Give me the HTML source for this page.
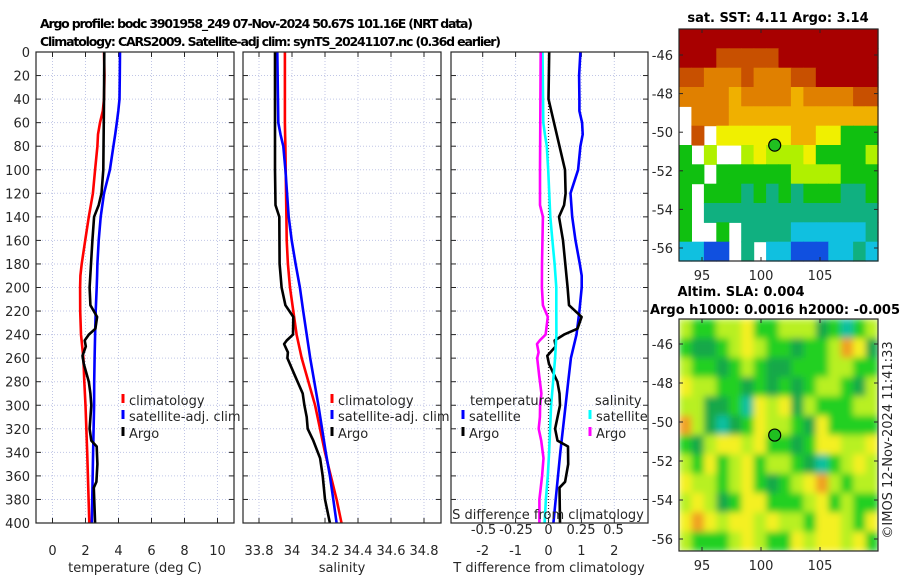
<!DOCTYPE html>
<html><head><meta charset="utf-8"><style>
html,body{margin:0;padding:0;background:#fff;}
svg{display:block;font-family:"DejaVu Sans","Liberation Sans",sans-serif;}
</style></head><body>
<svg id="fig" width="900" height="580" viewBox="0 0 900 580" xmlns="http://www.w3.org/2000/svg">
<defs><filter id="blur" x="0" y="0" width="1" height="1"><feGaussianBlur stdDeviation="3.5"/></filter>
<clipPath id="clipSla"><rect x="679" y="319" width="199" height="232"/></clipPath></defs>
<text x="40" y="28" font-size="12.5" font-weight="bold" textLength="433" lengthAdjust="spacing">Argo profile: bodc 3901958_249 07-Nov-2024 50.67S 101.16E (NRT data)</text>
<text x="40" y="46" font-size="12.5" font-weight="bold" textLength="461" lengthAdjust="spacing">Climatology: CARS2009. Satellite-adj clim: synTS_20241107.nc (0.36d earlier)</text>
<g id="root"></g>
</svg>
<script>
// ---- data ----
const depthT = [0,20,40,50,60,70,80,100,120,140,160,180,190,200,220,240,260,280,300,340,400];
const tempClim = [3.12,3.15,3.12,3.05,2.88,2.76,2.72,2.58,2.45,2.2,1.98,1.77,1.69,1.67,1.68,1.73,1.87,1.93,2.0,2.1,2.23];
const tempSat  = [4.09,4.08,4.06,3.99,3.9,3.8,3.69,3.48,3.12,2.92,2.8,2.72,2.7,2.68,2.62,2.58,2.55,2.53,2.52,2.46,2.38];
const depthArgoT = [0,40,100,120,130,140,160,200,215,225,235,240,245,250,258,265,280,290,300,320,330,335,350,365,370,400];
const tempArgo = [3.14,3.12,3.08,2.97,2.8,2.52,2.42,2.25,2.3,2.7,2.6,2.2,1.95,2.02,1.82,1.9,2.2,2.3,2.35,2.25,2.35,2.68,2.72,2.66,2.5,2.58];
const depthS = [0,60,70,80,100,140,160,180,200,220,240,260,300,340,360,380,400];
const salClim = [33.957,33.957,33.958,33.96,33.962,33.966,33.968,33.975,33.988,34.008,34.028,34.059,34.14,34.2,34.235,34.27,34.3];
const salSat  = [33.911,33.917,33.93,33.947,33.96,33.98,33.998,34.022,34.048,34.068,34.089,34.11,34.16,34.205,34.23,34.25,34.27];
const depthArgoS = [0,100,130,140,180,200,215,225,240,245,248,255,260,275,290,300,310,320,330,345,360,380,400];
const salArgo = [33.897,33.897,33.9,33.923,33.925,33.937,33.96,34.008,34.006,33.968,33.952,33.975,33.972,34.018,34.065,34.075,34.089,34.095,34.129,34.17,34.186,34.2,34.23];
const tempTicks = [0,2,4,6,8,10];
const salTicks = [33.8,34,34.2,34.4,34.6,34.8];
const salTickLabels = ["33.8","34","34.2","34.4","34.6","34.8"];
const dTTicks = [-2,-1,0,1,2];
const dSTicks = [-0.5,-0.25,0,0.25,0.5];
const depthTicks = [0,20,40,60,80,100,120,140,160,180,200,220,240,260,280,300,320,340,360,380,400];
// SST grid (rows north->south), 0=blue..9=dark red, '.'=missing
const sstRows = [
"9999999999999999","9998888899999999","8877787778899999","7777677776777788",
".777666666666666",".8.5555556655333","3.4..45444533334","33.3333334444333",
"3.33323232333223","3.22222222222222","3..3.22221111112","1100.2.110001121"];
// SLA grid 0=teal..5=orange
const slaRows = [
"3223342233312023","2112343221223541","3221232112223322","4332212121233213",
"3311204341322233","5310124332142222","2134434221244334","3242342332102343",
"4332342123453233","3431244222342322","4543443433244324","3222343224344342"];
const argoLon = 101.16, argoLat = -50.67;

// ---- helpers ----
const NS="http://www.w3.org/2000/svg";
const root=document.getElementById('root');
function mk(tag,attrs,parent){const e=document.createElementNS(NS,tag);for(const k in attrs)e.setAttribute(k,attrs[k]);(parent||root).appendChild(e);return e;}
function txt(x,y,s,attrs,parent){const e=mk('text',Object.assign({x:x,y:y,'font-size':13,fill:'#262626'},attrs||{}),parent);e.textContent=s;return e;}
const yTop=52,yBot=523;
const yD=d=>yTop+(yBot-yTop)*d/400;
function interp(ds,vs,d){for(let i=0;i<ds.length-1;i++){if(d>=ds[i]&&d<=ds[i+1]){const f=(d-ds[i])/(ds[i+1]-ds[i]);return vs[i]+f*(vs[i+1]-vs[i]);}}return vs[vs.length-1];}

function panel(name){
  const g=mk('g',{});
  
  
  return g;
}
function grid(g,x0,x1,xs){
  xs.forEach(x=>{const l=mk('line',{x1:x,x2:x,y1:yTop,y2:yBot,stroke:'#c0c6e6','stroke-width':1,'stroke-dasharray':'1,2'},g);
    
    mk('line',{x1:x,x2:x,y1:yBot,y2:yBot-5,stroke:'#262626'},g);mk('line',{x1:x,x2:x,y1:yTop,y2:yTop+5,stroke:'#262626'},g);});
  depthTicks.forEach(d=>{const y=yD(d);const l=mk('line',{x1:x0,x2:x1,y1:y,y2:y,stroke:'#c0c6e6','stroke-width':1,'stroke-dasharray':'1,2'},g);
    
    mk('line',{x1:x0,x2:x0+5,y1:y,y2:y,stroke:'#262626'},g);mk('line',{x1:x1-5,x2:x1,y1:y,y2:y,stroke:'#262626'},g);});
}
function frame(g,x0,x1){const r=mk('rect',{x:x0,y:yTop,width:x1-x0,height:yBot-yTop,fill:'none',stroke:'#262626','stroke-width':1.2},g);
  }
function line(g,ds,vs,sx,color,name,w){
  const pts=ds.map((d,i)=>sx(vs[i]).toFixed(1)+','+yD(d).toFixed(1)).join(' ');
  const p=mk('polyline',{points:pts,fill:'none',stroke:color,'stroke-width':w||2.6,'stroke-linejoin':'round'},g);
  return p;
}
function legendEntry(g,x,y,color,label){
  const e=mk('g',{},g);
  
  
  mk('line',{x1:x,x2:x,y1:y-11,y2:y-2,stroke:color,'stroke-width':3},e);
  txt(x+6,y,label,{},e);
}

// ---- panel 1: temperature ----
const p1x0=36,p1x1=234; const sxT=t=>52.5+16.5*t;
const g1=panel('temperature-panel');
grid(g1,p1x0,p1x1,tempTicks.map(sxT));
line(g1,depthT,tempClim,sxT,'#ff0000','temp-climatology-line');
line(g1,depthT,tempSat,sxT,'#0000ff','temp-satellite-line');
line(g1,depthArgoT,tempArgo,sxT,'#000000','temp-argo-line');
frame(g1,p1x0,p1x1);
depthTicks.forEach(d=>{const t=txt(30,yD(d)+5,String(d),{'text-anchor':'end'},g1);});
tempTicks.forEach(t=>{const e=txt(sxT(t),555,String(t),{'text-anchor':'middle'},g1);});
{const e=txt(135,572,'temperature (deg C)',{'text-anchor':'middle'},g1);}
legendEntry(g1,123,405,'#ff0000','climatology');
legendEntry(g1,123,421,'#0000ff','satellite-adj. clim');
legendEntry(g1,123,438,'#000000','Argo');

// ---- panel 2: salinity ----
const p2x0=243,p2x1=441; const sxS=s=>259+165*(s-33.8);
const g2=panel('salinity-panel');
grid(g2,p2x0,p2x1,salTicks.map(sxS));
line(g2,depthS,salClim,sxS,'#ff0000','sal-climatology-line');
line(g2,depthS,salSat,sxS,'#0000ff','sal-satellite-line');
line(g2,depthArgoS,salArgo,sxS,'#000000','sal-argo-line');
frame(g2,p2x0,p2x1);
salTicks.forEach((s,i)=>{const e=txt(sxS(s),555,salTickLabels[i],{'text-anchor':'middle'},g2);});
{const e=txt(342,572,'salinity',{'text-anchor':'middle'},g2);}
legendEntry(g2,332,405,'#ff0000','climatology');
legendEntry(g2,332,421,'#0000ff','satellite-adj. clim');
legendEntry(g2,332,438,'#000000','Argo');

// ---- panel 3: differences ----
const p3x0=451,p3x1=648; const sxdT=t=>548.5+32.9*t; const sxdS=s=>548.5+130*s;
const g3=panel('difference-panel');
grid(g3,p3x0,p3x1,dTTicks.map(sxdT));
{const z=mk('line',{x1:548.5,x2:548.5,y1:yTop,y2:yBot,stroke:'#333','stroke-width':1.2,'stroke-dasharray':'1,2'},g3);}
line(g3,depthT,tempSat.map((v,i)=>v-tempClim[i]),sxdT,'#0000ff','tdiff-satellite-line');
line(g3,depthArgoT,tempArgo.map((v,i)=>v-interp(depthT,tempClim,depthArgoT[i])),sxdT,'#000000','tdiff-argo-line');
line(g3,depthS,salSat.map((v,i)=>v-salClim[i]),sxdS,'#00ffff','sdiff-satellite-line');
line(g3,depthArgoS,salArgo.map((v,i)=>v-interp(depthS,salClim,depthArgoS[i])),sxdS,'#ff00ff','sdiff-argo-line');
frame(g3,p3x0,p3x1);
dTTicks.forEach(t=>{const e=txt(sxdT(t),555,String(t),{'text-anchor':'middle'},g3);});
dSTicks.forEach(s=>{const e=txt(sxdS(s),534,String(s),{'text-anchor':'middle'},g3);});
{const e=txt(548,519,'S difference from climatology',{'text-anchor':'middle'},g3);}
{const e=txt(549,572,'T difference from climatology',{'text-anchor':'middle'},g3);}
txt(470,405,'temperature',{},g3);
txt(595,405,'salinity',{},g3);
legendEntry(g3,463,421,'#0000ff','satellite');
legendEntry(g3,463,438,'#000000','Argo');
legendEntry(g3,590,421,'#00ffff','satellite ');
legendEntry(g3,590,438,'#ff00ff','Argo ');

// ---- maps ----
const mx0=679,mx1=878; const lonX=lon=>702+11.8*(lon-95);
function drawMap(name,rows,palette,yT,yB,latY,blur){
  const g=mk('g',{});
  
  
  const cells=mk('g',blur?{filter:'url(#blur)','clip-path':'url(#clipSla)'}:{},g);
  const nr=rows.length,nc=16,cw=(mx1-mx0)/nc,ch=(yB-yT)/nr;
  if(blur){mk('rect',{x:mx0,y:yT,width:mx1-mx0,height:yB-yT,fill:palette[3]},cells);}
  rows.forEach((r,i)=>{for(let j=0;j<nc;j++){const c=r[j];if(c==='.'||c===undefined)continue;
    const cell=mk('rect',{x:(mx0+j*cw).toFixed(1),y:(yT+i*ch).toFixed(1),width:(cw+0.6).toFixed(1),height:(ch+0.6).toFixed(1),fill:palette[+c]},cells);
    }});
  const fr=mk('rect',{x:mx0,y:yT,width:mx1-mx0,height:yB-yT,fill:'none',stroke:'#262626','stroke-width':1.2},g);
  
  [-46,-48,-50,-52,-54,-56].forEach(lat=>{const y=latY(lat);mk('line',{x1:mx0,x2:mx0+4,y1:y,y2:y,stroke:'#262626'},g);mk('line',{x1:mx1-4,x2:mx1,y1:y,y2:y,stroke:'#262626'},g);
    const t=txt(673,y+5,String(lat),{'text-anchor':'end'},g);});
  [95,100,105].forEach(lon=>{const x=lonX(lon);mk('line',{x1:x,x2:x,y1:yB,y2:yB-4,stroke:'#262626'},g);mk('line',{x1:x,x2:x,y1:yT,y2:yT+4,stroke:'#262626'},g);
    const t=txt(x,yB+19,String(lon),{'text-anchor':'middle'},g);});
  const c=mk('circle',{cx:lonX(argoLon),cy:latY(argoLat),r:6,fill:'#20c020',stroke:'#000','stroke-width':1.2},g);
  
  return g;
}
const sstPal=['#1050e0','#10c0e0','#10b080','#10c010','#b0f000','#f0f000','#f0b000','#e08000','#c85000','#a80000'];
const slaPal=['#10c0a0','#18a848','#20d020','#b8f020','#f4f020','#f0a020'];
drawMap('sst-map',sstRows,sstPal,29,261,lat=>55+19.3*(-46-lat),false);
{const e=txt(778,22,'sat. SST: 4.11 Argo: 3.14',{'text-anchor':'middle','font-weight':'bold',fill:'#000'});}
drawMap('sla-map',slaRows,slaPal,319,551,lat=>344+19.5*(-46-lat),true);
{const e=txt(741,296,'Altim. SLA: 0.004',{'text-anchor':'middle','font-weight':'bold',fill:'#000'});}
{const e=txt(775,314,'Argo h1000: 0.0016 h2000: -0.005',{'text-anchor':'middle','font-weight':'bold',fill:'#000',textLength:250});}
{const e=txt(0,0,'©IMOS 12-Nov-2024 11:41:33',{'text-anchor':'middle',transform:'translate(892,440) rotate(-90)'});}
</script>
</body></html>
